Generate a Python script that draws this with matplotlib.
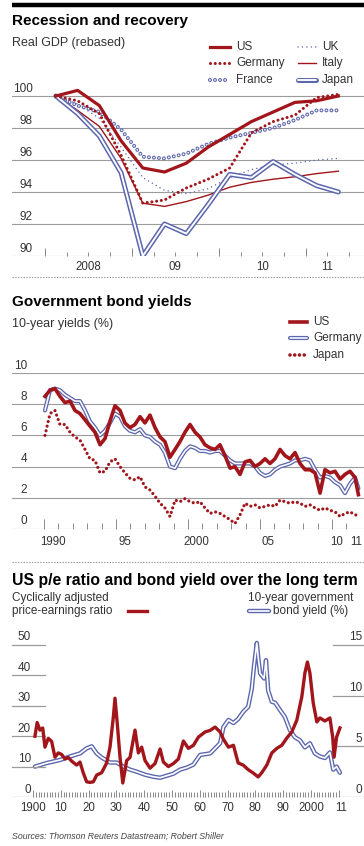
import numpy as np
import matplotlib
matplotlib.use('Agg')
import matplotlib.pyplot as plt
from matplotlib.transforms import offset_copy

plt.rcParams['font.family'] = ['Liberation Sans', 'DejaVu Sans']
plt.rcParams['lines.scale_dashes'] = False

# ---- panel 1: real GDP, rebased (quarterly, mid-quarter positions)
gdp_quarters = [2008.125, 2008.375, 2008.625, 2008.875, 2009.125, 2009.375, 2009.625,
                2009.875, 2010.125, 2010.375, 2010.625, 2010.875, 2011.125, 2011.375]
gdp_us = [100, 100.35, 99.4, 97.2, 95.5, 95.25, 95.8, 96.8, 97.6, 98.4, 99.0, 99.6, 99.7, 100.0]
gdp_germany = [100, 99.7, 98.9, 96.3, 93.3, 93.5, 94.25, 94.8, 95.5, 97.7, 98.4, 98.8, 99.9, 100.1]
gdp_france = [100, 99.4, 99.0, 97.9, 96.2, 96.1, 96.4, 97.0, 97.4, 97.7, 98.0, 98.5, 99.1, 99.1]
gdp_uk = [100, 99.5, 98.6, 96.8, 94.9, 94.1, 93.9, 94.2, 94.9, 95.4, 95.7, 95.8, 96.0, 96.1]
gdp_italy = [100, 99.1, 98.1, 96.1, 93.3, 93.1, 93.4, 93.8, 94.3, 94.6, 94.8, 94.95, 95.15, 95.3]
gdp_japan = [100, 98.9, 97.5, 95.2, 90.0, 92.0, 91.4, 93.2, 95.1, 94.9, 95.9, 95.1, 94.4, 94.0]
gdp_yticks = [90, 92, 94, 96, 98, 100]
gdp_xlabels = ['2008', '09', '10', '11']
gdp_xlabel_pos = [2008.5, 2009.5, 2010.5, 2011.25]

# ---- panel 2: 10-year government bond yields (%)
bond_years = [1990.07, 1990.42, 1990.76, 1991.11, 1991.46, 1991.81, 1992.15, 1992.50, 1992.85,
              1993.19, 1993.54, 1993.89, 1994.24, 1994.58, 1994.93, 1995.28, 1995.62, 1995.97,
              1996.32, 1996.67, 1997.01, 1997.36, 1997.71, 1998.06, 1998.40, 1998.75, 1999.10,
              1999.44, 1999.79, 2000.14, 2000.49, 2000.83, 2001.18, 2001.53, 2001.88, 2002.22,
              2002.57, 2002.92, 2003.26, 2003.61, 2003.96, 2004.31, 2004.65, 2005.00, 2005.35,
              2005.69, 2006.04, 2006.39, 2006.74, 2007.08, 2007.43, 2007.78, 2008.13, 2008.47,
              2008.82, 2009.17, 2009.51, 2009.86, 2010.21, 2010.56, 2010.90, 2011.25, 2011.60,
              2011.83]
us_yield = [8.5, 8.9, 9.0, 8.5, 8.1, 8.2, 7.6, 7.4, 7.0, 6.6, 6.2, 5.4, 5.8, 6.9, 7.9, 7.6,
            6.8, 6.5, 6.7, 7.2, 6.8, 7.3, 6.5, 5.9, 5.6, 4.6, 5.1, 5.6, 6.2, 6.7, 6.2, 5.9,
            5.4, 5.2, 5.1, 5.4, 4.7, 3.9, 4.0, 3.5, 4.3, 4.4, 4.0, 4.2, 4.5, 4.2, 4.5, 5.1,
            4.7, 4.5, 4.9, 4.2, 3.8, 3.8, 3.6, 2.3, 3.8, 3.6, 3.7, 3.2, 3.5, 3.7, 3.3, 2.2]
germany_yield = [7.6, 8.9, 9.0, 8.9, 8.6, 8.4, 8.2, 8.2, 7.6, 6.9, 6.5, 6.0, 6.3, 6.8, 7.4, 7.2,
                 6.6, 6.3, 6.2, 6.4, 6.0, 5.9, 5.6, 5.4, 4.9, 4.0, 3.9, 4.5, 5.0, 5.3, 5.2, 5.0,
                 5.0, 4.9, 5.0, 5.0, 4.7, 4.4, 4.2, 4.2, 4.2, 4.2, 4.0, 3.6, 3.4, 3.5, 3.8, 4.0,
                 4.1, 4.2, 4.4, 4.4, 4.5, 4.4, 3.8, 3.3, 3.4, 3.3, 3.0, 2.8, 2.3, 2.9, 3.3, 2.6]
japan_yield = [6.0, 7.4, 7.6, 6.7, 6.7, 6.2, 5.9, 5.7, 5.1, 4.5, 4.4, 3.6, 3.7, 4.3, 4.5, 4.0,
               3.6, 3.25, 3.15, 3.35, 2.7, 2.5, 2.1, 1.65, 1.35, 0.8, 1.85, 1.75, 1.95, 1.75, 1.65, 1.75,
               1.35, 1.0, 1.1, 1.0, 0.8, 0.6, 0.35, 0.9, 1.65, 1.45, 1.55, 1.35, 1.45, 1.55, 1.45, 1.85,
               1.75, 1.65, 1.75, 1.65, 1.45, 1.55, 1.35, 1.2, 1.35, 1.2, 1.1, 0.8, 1.0, 1.1, 0.9, 0.9]
bond_yticks = [0, 2, 4, 6, 8, 10]
bond_xlabels = ['1990', '95', '2000', '05', '10', '11']
bond_xlabel_pos = [1990.6, 1995.6, 2000.55, 2005.55, 2010.35, 2011.7]

# ---- panel 3: US cyclically adjusted p/e and long-term bond yield
cape_years = [1900.7, 1901.5, 1902.5, 1903.5, 1904.3, 1905.5, 1906.7, 1907.9, 1909.1, 1910.3,
              1911.5, 1912.7, 1913.9, 1915.7, 1916.9, 1918.1, 1919.3, 1920.5, 1921.7, 1922.9,
              1924.7, 1926.5, 1927.7, 1928.9, 1929.5, 1930.3, 1931.3, 1932.3, 1933.7, 1934.9,
              1936.7, 1937.9, 1939.1, 1940.3, 1942.1, 1943.9, 1945.7, 1946.9, 1948.7, 1950.5,
              1952.3, 1954.1, 1955.9, 1957.7, 1959.5, 1961.9, 1963.7, 1965.5, 1967.3, 1968.5,
              1970.3, 1972.1, 1973.8, 1975.6, 1977.4, 1979.2, 1981.0, 1982.3, 1984.1, 1985.9,
              1987.7, 1989.5, 1991.3, 1993.1, 1994.9, 1996.7, 1997.8, 1998.7, 1999.6, 2000.8,
              2002.1, 2003.2, 2005.0, 2006.8, 2007.8, 2008.3, 2009.2, 2010.4]
cape_values = [20, 24.5, 22, 22.7, 16.4, 19.3, 18.3, 13.1, 14.5, 14,
               12.5, 13, 11.8, 10.5, 11.5, 7.9, 5, 4.8, 5.0, 7.2,
               8, 11.2, 16.4, 26.3, 32.5, 24.3, 13.1, 4.6, 12, 13,
               22, 14.5, 16.4, 12, 9.5, 11, 15.8, 11.5, 10, 11,
               12.5, 18.4, 16, 17, 19.7, 21.4, 21.9, 23, 21.4, 19,
               16.4, 17, 11.2, 10.5, 9, 7.9, 6.6, 8, 10.5, 14.5,
               16, 17, 19.4, 21.4, 25.3, 33, 40.8, 44.4, 40.8, 30.9,
               24.7, 26, 25, 26, 19.7, 13.1, 19.7, 22.7]
lt_years = [1900.7, 1904.9, 1909.7, 1913.3, 1916.9, 1919.3, 1921.1, 1922.9, 1924.7, 1927.7,
            1930.1, 1932.5, 1934.9, 1937.3, 1940.3, 1943.3, 1945.7, 1948.1, 1950.5, 1952.9,
            1955.3, 1957.7, 1960.1, 1963.7, 1967.3, 1968.5, 1970.3, 1972.1, 1973.8, 1975.6,
            1977.4, 1978.7, 1979.5, 1980.5, 1981.0, 1981.7, 1983.1, 1983.8, 1984.6, 1985.9,
            1987.1, 1988.8, 1990.6, 1992.4, 1994.2, 1996.0, 1997.8, 1999.6, 2001.4, 2003.2,
            2005.0, 2006.8, 2008.0, 2009.2, 2010.4]
lt_yield = [3.0, 3.35, 3.65, 4.0, 4.3, 4.8, 5.0, 4.3, 3.9, 3.4,
            3.4, 3.0, 2.7, 2.5, 2.2, 2.0, 1.9, 2.1, 2.3, 2.7,
            2.9, 3.2, 4.15, 4.3, 5.3, 6.9, 7.6, 7.3, 7.7, 8.4,
            8.9, 10.7, 12.9, 15.2, 13.8, 12.2, 11.7, 13.5, 10.5, 9.4,
            9.3, 8.6, 7.9, 6.6, 5.9, 5.6, 4.9, 5.3, 4.3, 4.0,
            3.85, 4.4, 2.7, 3.0, 2.4]
pe_left_ticks = [10, 20, 30, 40, 50]
pe_right_ticks = [5, 10, 15]
pe_xlabels = ['1900', '10', '20', '30', '40', '50', '60', '70', '80', '90', '2000', '11']
pe_xlabel_pos = [1900, 1910, 1920, 1930, 1940, 1950, 1960, 1970, 1980, 1990, 2000, 2011]

W, H = 364, 846
RED = '#A1151B'
BLUE = '#5C67AD'
GRID = '#9B9B9B'
TXT = '#333333'

fig = plt.figure(figsize=(W / 100, H / 100), dpi=100)
ov = fig.add_axes([0, 0, 1, 1])
ov.set_xlim(0, W)
ov.set_ylim(H, 0)
ov.axis('off')


def px_axes(x0, y0, x1, y1):
    ax = fig.add_axes([x0 / W, 1 - y1 / H, (x1 - x0) / W, (y1 - y0) / H])
    ax.patch.set_alpha(0)
    for s in ax.spines.values():
        s.set_visible(False)
    return ax


def styled(ax, x, y, kind, z=2, lw=None, **kw):
    if kind == 'thick':
        ax.plot(x, y, color=RED, lw=lw or 2.3, solid_joinstyle='round', zorder=z, **kw)
    elif kind == 'thin':
        ax.plot(x, y, color=RED, lw=lw or 1.0, zorder=z, **kw)
    elif kind == 'reddots':
        ax.plot(x, y, color=RED, lw=lw or 2.2, ls=(0, (0.01, 3.4)), dash_capstyle='round', zorder=z, **kw)
    elif kind == 'bluedots':
        ax.plot(x, y, color=BLUE, lw=lw or 1.1, ls=(0, (0.01, 3.2)), dash_capstyle='round', zorder=z, **kw)
    elif kind == 'rings':
        ax.plot(x, y, color=BLUE, lw=2.9, ls=(0, (0.01, 3.6)), dash_capstyle='round', zorder=z, **kw)
        ax.plot(x, y, color='white', lw=1.3, ls=(0, (0.01, 3.6)), dash_capstyle='round', zorder=z + 0.1, **kw)
    elif kind == 'double':
        w = lw or 3.6
        ax.plot(x, y, color=BLUE, lw=w, solid_joinstyle='round', solid_capstyle='round', zorder=z, **kw)
        ax.plot(x, y, color='white', lw=w * 0.38, solid_joinstyle='round', solid_capstyle='round',
                zorder=z + 0.1, **kw)


def ylabels(ax, vals, dx, fs=8.5):
    tr = offset_copy(ax.get_yaxis_transform(), fig=fig, x=dx, y=1.5, units='dots')
    for v in vals:
        ax.text(0, v, str(v), transform=tr, ha='right', va='bottom', fontsize=fs, color=TXT)


def xlabels(ax, pos, labs, dy, fs=8.3):
    tr = offset_copy(ax.get_xaxis_transform(), fig=fig, x=0, y=-dy, units='dots')
    for p, s in zip(pos, labs):
        ax.text(p, 0, s, transform=tr, ha='center', va='center', fontsize=fs, color=TXT)


def ticks(ax, major, minor, lmaj, lmin):
    ax.set_xticks(major)
    ax.set_xticks(minor, minor=True)
    ax.tick_params(axis='x', which='major', direction='in', length=lmaj, width=0.7, color='#8a8a8a',
                   labelbottom=False)
    ax.tick_params(axis='x', which='minor', direction='in', length=lmin, width=0.7, color='#8a8a8a')


# ---- header decorations
ov.plot([12, 364], [5, 5], color='black', lw=3.2, solid_capstyle='butt')
ov.plot([12, 364], [277, 277], color='#999999', lw=0.8, ls=(0, (1, 1)))
ov.plot([12, 364], [562, 562], color='#999999', lw=0.8, ls=(0, (1, 1)))

ov.text(12, 25, 'Recession and recovery', fontsize=11, fontweight='bold', va='baseline')
ov.text(12, 46, 'Real GDP (rebased)', fontsize=9, color=TXT, va='baseline')
ov.text(12, 306, 'Government bond yields', fontsize=11, fontweight='bold', va='baseline')
ov.text(12, 327, '10-year yields (%)', fontsize=9, color=TXT, va='baseline')
ov.text(12, 585, 'US p/e ratio and bond yield over the long term', fontsize=11.3, fontweight='bold',
        va='baseline')
ov.text(12, 601, 'Cyclically adjusted', fontsize=8.5, color=TXT, va='baseline')
ov.text(12, 614, 'price-earnings ratio', fontsize=8.5, color=TXT, va='baseline')
ov.text(248, 601, '10-year government', fontsize=8.5, color=TXT, va='baseline')
ov.text(273, 614, 'bond yield (%)', fontsize=8.5, color=TXT, va='baseline')
ov.text(12, 836, 'Sources: Thomson Reuters Datastream; Robert Shiller', fontsize=6.3, style='italic',
        color='#444444', va='center')

# legends
leg1 = [('US', 210, 230, 47, 'thick'), ('Germany', 210, 230, 63, 'reddots'),
        ('France', 210, 230, 80, 'rings'), ('UK', 298, 316, 47, 'bluedots'),
        ('Italy', 298, 316, 63, 'thin'), ('Japan', 298, 316, 80, 'double')]
for lab, x0, x1, y, kind in leg1:
    styled(ov, [x0, x1], [y, y], kind)
    ov.text(x1 + 6, y, lab, fontsize=8.5, color=TXT, va='center')

leg2 = [('US', 290, 307, 322, 'thick'), ('Germany', 290, 307, 338, 'double'),
        ('Japan', 290, 307, 355, 'reddots')]
for lab, x0, x1, y, kind in leg2:
    styled(ov, [x0, x1], [y, y], kind, lw=2.6 if kind != 'double' else 3.0)
    ov.text(x1 + 6, y, lab, fontsize=8.5, color=TXT, va='center')

styled(ov, [128, 147], [611, 611], 'thick', lw=2.4)
styled(ov, [249, 269], [611, 611], 'double', lw=3.2)

# ---- panel 1
ax1 = px_axes(12, 86.4, 364, 256)
ax1.set_xlim(2007.62, 2011.67)
ax1.set_ylim(90, 100.6)
ax1.set_yticks(gdp_yticks)
ax1.tick_params(axis='y', length=0, labelleft=False)
ax1.grid(axis='y', color=GRID, lw=0.8)
ax1.set_axisbelow(True)
ticks(ax1, np.arange(2008, 2012, 1.0), np.arange(2008, 2011.6, 0.25), 6, 3)
styled(ax1, gdp_quarters, gdp_france, 'rings', z=2)
styled(ax1, gdp_quarters, gdp_uk, 'bluedots', z=3)
styled(ax1, gdp_quarters, gdp_italy, 'thin', z=4)
styled(ax1, gdp_quarters, gdp_japan, 'double', z=5)
styled(ax1, gdp_quarters, gdp_germany, 'reddots', z=6)
styled(ax1, gdp_quarters, gdp_us, 'thick', z=7)
ylabels(ax1, gdp_yticks, 21)
xlabels(ax1, gdp_xlabel_pos, gdp_xlabels, 11)

# ---- panel 2
ax2 = px_axes(12, 373, 364, 529)
ax2.set_xlim(1987.78, 2012.22)
ax2.set_ylim(0, 10)
ax2.set_yticks(bond_yticks)
ax2.tick_params(axis='y', length=0, labelleft=False)
ax2.grid(axis='y', color=GRID, lw=0.8)
ax2.set_axisbelow(True)
ticks(ax2, np.arange(1990, 2012, 5), np.arange(1990, 2012, 1), 7, 4.5)
styled(ax2, bond_years, japan_yield, 'reddots', z=2, lw=2.3)
styled(ax2, bond_years, germany_yield, 'double', z=3, lw=3.0)
styled(ax2, bond_years, us_yield, 'thick', z=4, lw=2.6)
ylabels(ax2, bond_yticks, 15)
xlabels(ax2, bond_xlabel_pos, bond_xlabels, 13)

# ---- panel 3
ax3 = px_axes(12, 638.9, 364, 797)
ax3.set_xlim(1892.45, 2019.06)
ax3.set_ylim(0, 52)
ax3.set_yticks([])
ax3.axhline(0, color=GRID, lw=0.9)
ticks(ax3, np.arange(1900, 2011, 10), np.arange(1901, 2011, 1), 5, 3.5)
ytr = ax3.get_yaxis_transform()
for v in pe_left_ticks:
    ax3.plot([0, 33 / 352], [v, v], color=GRID, lw=0.9, transform=ytr, clip_on=False)
ylabels(ax3, [0] + pe_left_ticks, 19, fs=8.5)
ax3b = ax3.twinx()
for s in ax3b.spines.values():
    s.set_visible(False)
ax3b.set_ylim(0, 15.6)
ax3b.set_yticks([])
ytr2 = ax3b.get_yaxis_transform()
for v in pe_right_ticks:
    ax3b.plot([321 / 352, 1], [v, v], color=GRID, lw=0.9, transform=ytr2, clip_on=False)
rtr = offset_copy(ytr2, fig=fig, x=-1.5, y=1.5, units='dots')
for v in [0] + pe_right_ticks:
    ax3b.text(1, v, str(v), transform=rtr, ha='right', va='bottom', fontsize=8.5, color=TXT)
styled(ax3b, lt_years, lt_yield, 'double', z=2, lw=3.2)
ax3.set_zorder(ax3b.get_zorder() + 1)
ax3.patch.set_visible(False)
styled(ax3, cape_years, cape_values, 'thick', z=3, lw=2.4)
xlabels(ax3, pe_xlabel_pos, pe_xlabels, 11)

fig.savefig('out.png', dpi=100)
